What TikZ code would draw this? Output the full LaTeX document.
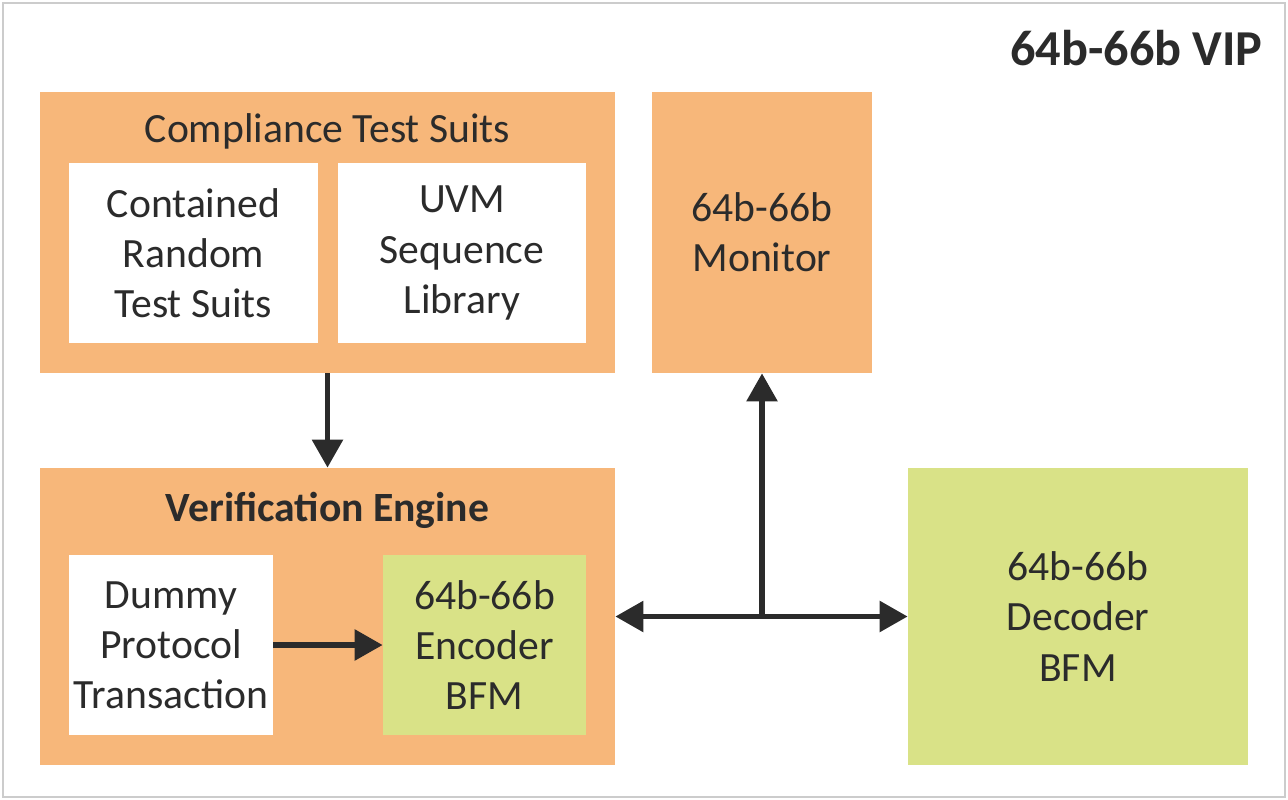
\documentclass[tikz,border=0pt]{standalone}
\usepackage{fontspec}
\setmainfont{Carlito}
\usepackage{xcolor}
\usepackage{tikz}
\usetikzlibrary{calc,positioning,arrows.meta}
\definecolor{FrameGray}{HTML}{CCCCCC}
\definecolor{BlockOrange}{HTML}{F7B77A}
\definecolor{BlockGreen}{HTML}{D9E287}
\definecolor{InkDark}{HTML}{2B2B2B}
\newcommand{\bodyfont}{\fontsize{23.7}{28.5}\selectfont}

\begin{document}
\begin{tikzpicture}[
        outerblock/.style={fill=BlockOrange, minimum width=11.5cm, inner sep=0pt},
        innerblock/.style={fill=white, minimum height=3.6cm, inner sep=0pt,
            align=center, text=InkDark, font=\bodyfont},
        sideblock/.style={minimum height=5.94cm, inner sep=0pt,
            align=center, text=InkDark, font=\bodyfont},
        link/.style={draw=InkDark, line width=3.2pt,
            -{Triangle[length=0.56cm,width=0.6cm]}}
    ]
        \useasboundingbox (0,0) rectangle (25.76,-16);
        \draw[FrameGray, line width=1.2pt] (0.06,-0.06) rectangle (25.7,-15.94);
        \node[anchor=east, inner sep=0pt, text=InkDark, font=\fontsize{28.6}{34}\selectfont\bfseries]
            (vip) at (25.26,-0.96) {64b-66b VIP};

        % compliance suite
        \node[outerblock, minimum height=5.62cm] (comp) at (6.55,-4.65) {};
        \node[text=InkDark, font=\bodyfont] (comptitle) at ([yshift=-0.8cm]comp.north)
            {Compliance Test Suits};
        \node[innerblock, minimum width=4.98cm] (crts) at (3.87,-5.06)
            {Contained\\Random\\Test Suits};
        \node[innerblock, minimum width=4.96cm] (uvm) at (9.24,-5.06)
            {UVM\\Sequence\\Library};

        % monitor
        \node[sideblock, fill=BlockOrange, minimum width=4.4cm, minimum height=5.62cm]
            (mon) at (15.24,-4.65) {64b-66b\\Monitor};

        % verification engine
        \node[outerblock, minimum height=5.94cm] (ve) at (6.55,-12.33) {};
        \node[text=InkDark, font=\bodyfont\bfseries] (vetitle) at ([yshift=-0.86cm]ve.north)
            {Verification Engine};
        \node[innerblock, minimum width=4.08cm] (dummy) at (3.42,-12.9)
            {Dummy\\Protocol\\Transaction};
        \node[innerblock, fill=BlockGreen, minimum width=4.06cm] (enc) at (9.69,-12.9)
            {64b-66b\\Encoder\\BFM};

        % decoder
        \node[sideblock, fill=BlockGreen, minimum width=6.8cm] (dec) at (21.56,-12.33)
            {64b-66b\\Decoder\\BFM};

        % connections
        \draw[link] (comp.south) -- (ve.north);
        \draw[link] (dummy.east) -- (enc.west);
        \draw[link, {Triangle[length=0.56cm,width=0.6cm]}-{Triangle[length=0.56cm,width=0.6cm]}]
            (ve.east) -- (dec.west);
        \draw[link] (ve.east -| mon.south) -- (mon.south);
\end{tikzpicture}
\end{document}
